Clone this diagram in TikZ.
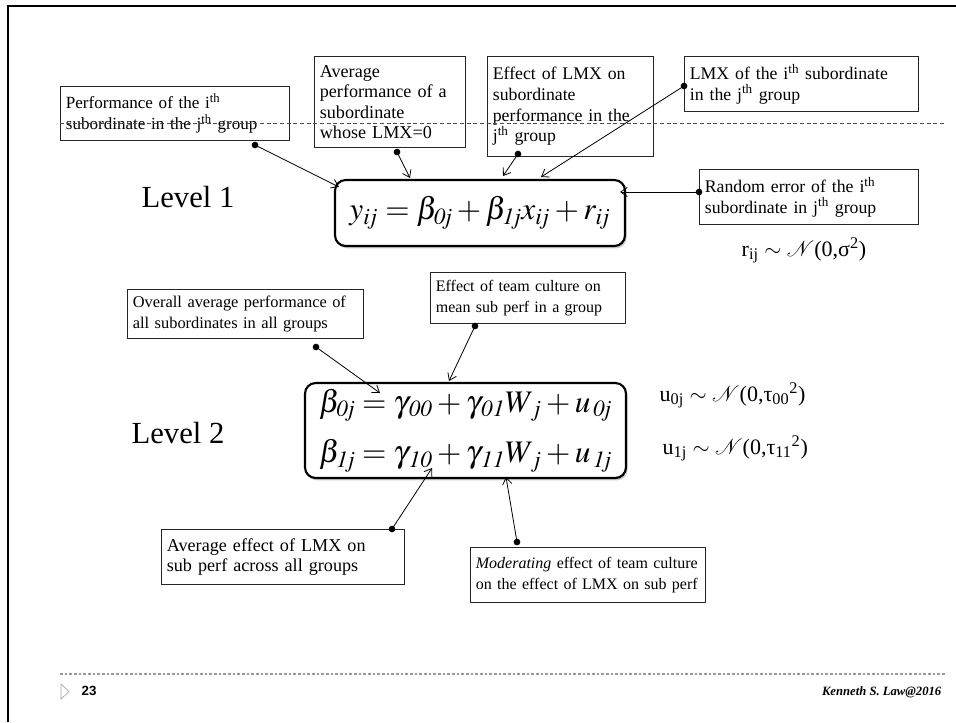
\documentclass[tikz,border=0pt]{standalone}
\usepackage{mathptmx}
\usepackage{fontspec}
\setmainfont{Liberation Serif}
\setsansfont{Liberation Sans}
\usetikzlibrary{arrows.meta,shadows}

\begin{document}
\begin{tikzpicture}[x=0.75pt,y=-0.75pt,
    note/.style={draw=black!85,line width=0.8pt,fill=white,align=left,anchor=north west,
      inner xsep=4pt,inner ysep=3pt,font=\fontsize{12}{15.5}\selectfont},
    big/.style={font=\fontsize{13.3}{15.5}\selectfont},
    eqbox/.style={draw,line width=1.6pt,rounded corners=8pt,fill=white,
      drop shadow={shadow xshift=1.2pt,shadow yshift=-1.8pt,fill=black!40},inner sep=0pt},
    dotmark/.style={circle,fill=black,inner sep=0,minimum size=5pt},
    link/.style={-{Straight Barb[length=5pt,width=7pt]},line width=0.6pt}]
    \useasboundingbox (0,0) rectangle (956,722);
    \draw[line width=2pt] (8,722) -- (8,6) -- (956,6);

    \node[note,font=\fontsize{12.8}{15.5}\selectfont,text width=163.75pt,minimum height=40.5pt] (perf) at (60,86)
      {Performance of the i\textsuperscript{th}\\subordinate in the j\textsuperscript{th} group};
    \node[note,font=\fontsize{13.6}{15.3}\selectfont,text width=105.25pt,minimum height=68.25pt] (avgperf) at (314,56)
      {Average\\performance of a\\subordinate\\whose LMX=0};
    \node[note,big,text width=116.5pt,minimum height=75pt] (lmxeff) at (487,56)
      {Effect of LMX on\\subordinate\\performance in the\\j\textsuperscript{th} group};
    \node[note,big,text width=167.5pt,minimum height=41.25pt] (lmxval) at (684,56)
      {LMX of the i\textsuperscript{th} subordinate\\in the j\textsuperscript{th} group};
    \node[note,big,text width=156.25pt,minimum height=41.25pt] (randerr) at (699,169)
      {Random error of the i\textsuperscript{th}\\subordinate in j\textsuperscript{th} group};

    \draw[black!70,dash pattern=on 3pt off 2pt,line width=0.7pt] (60,123) -- (945,123);

    \node at (188,197) (lvlone) {\fontsize{23}{27}\selectfont Level 1};
    \node[eqbox,minimum width=217.5pt,minimum height=49.5pt,font=\fontsize{23.5}{28}\selectfont] (eqone) at (480,213)
      {$y_{i\mkern-2mu j} = \beta_{\mathit{0j}} + \beta_{\mathit{1j}}x_{i\mkern-2mu j} + r_{i\mkern-2mu j}$};
    \node[anchor=west] (rdist) at (737,250)
      {\fontsize{16.5}{20}\selectfont r\textsubscript{ij} $\sim$ $\mathcal{N}$(0,σ\textsuperscript{2})};

    \node[dotmark] (dperf) at (255,145) {};
    \coordinate (tperf) at (339,187);
    \draw[link] (dperf.center) -- (tperf);
    \node[dotmark] (davg) at (397,152) {};
    \coordinate (tavg) at (410,178);
    \draw[link] (davg.center) -- (tavg);
    \node[dotmark] (deff) at (518,154) {};
    \coordinate (teff) at (503,176);
    \draw[link] (deff.center) -- (teff);
    \node[dotmark] (dlmx) at (684,86) {};
    \coordinate (tlmx) at (541,177);
    \draw[link] (dlmx.center) -- (tlmx);
    \node[dotmark] (drand) at (699,192) {};
    \coordinate (trand) at (620,192);
    \draw[link] (drand.center) -- (trand);

    \node[note,font=\fontsize{12.3}{15.5}\selectfont,text width=169pt,minimum height=36.75pt] (overall) at (127,289)
      {Overall average performance of\\all subordinates in all groups};
    \node[note,text width=138.25pt,minimum height=38.25pt] (team) at (430,272)
      {Effect of team culture on\\mean sub perf in a group};
    \node at (178,433) (lvltwo) {\fontsize{23}{27}\selectfont Level 2};
    \node[eqbox,minimum width=240.75pt,minimum height=71.25pt,align=left,
      font=\fontsize{23.5}{38}\selectfont] (eqtwo) at (465.5,430.5)
      {$\beta_{\mathit{0j}} = \gamma_{\,\mathit{00}} + \gamma_{\,\mathit{01}}W_{\,j} + u_{\,\mathit{0j}}$\\
       $\beta_{\mathit{1j}} = \gamma_{\,\mathit{10}} + \gamma_{\,\mathit{11}}W_{\,j} + u_{\,\mathit{1j}}$};
    \node[anchor=west] (uzero) at (655,395)
      {\fontsize{16.5}{20}\selectfont u\textsubscript{0j} $\sim$ $\mathcal{N}$(0,τ\textsubscript{00}\textsuperscript{2})};
    \node[anchor=west] (uone) at (658,448)
      {\fontsize{16.5}{20}\selectfont u\textsubscript{1j} $\sim$ $\mathcal{N}$(0,τ\textsubscript{11}\textsuperscript{2})};
    \node[note,font=\fontsize{13.6}{15.5}\selectfont,text width=174.25pt,minimum height=41.25pt] (avgeff) at (161,529)
      {Average effect of LMX on\\sub perf across all groups};
    \node[note,text width=168.25pt,minimum height=41.25pt] (moder) at (470,547)
      {\textit{Moderating} effect of team culture\\on the effect of LMX on sub perf};

    \node[dotmark] (dover) at (316,347) {};
    \coordinate (tover) at (380,393);
    \draw[link] (dover.center) -- (tover);
    \node[dotmark] (dteam) at (475,326) {};
    \coordinate (tteam) at (449,381);
    \draw[link] (dteam.center) -- (tteam);
    \node[dotmark] (davgeff) at (392,529) {};
    \coordinate (tavgeff) at (432,468);
    \draw[link] (davgeff.center) -- (tavgeff);
    \node[dotmark] (dmoder) at (517,542) {};
    \coordinate (tmoder) at (506,477);
    \draw[link] (dmoder.center) -- (tmoder);

    \draw[gray!80,dash pattern=on 2pt off 1.5pt,line width=0.8pt] (60,674) -- (945,674);
    \draw[gray!70,line width=0.5pt] (61,684) -- (69,691.5) -- (61,699) -- cycle;
    \node[anchor=west] (pagenum) at (77,691) {\fontsize{10}{12}\sffamily\bfseries 23};
    \node[anchor=east] (author) at (946,692) {\fontsize{9.5}{11}\bfseries\itshape Kenneth S. Law@2016};
\end{tikzpicture}
\end{document}
